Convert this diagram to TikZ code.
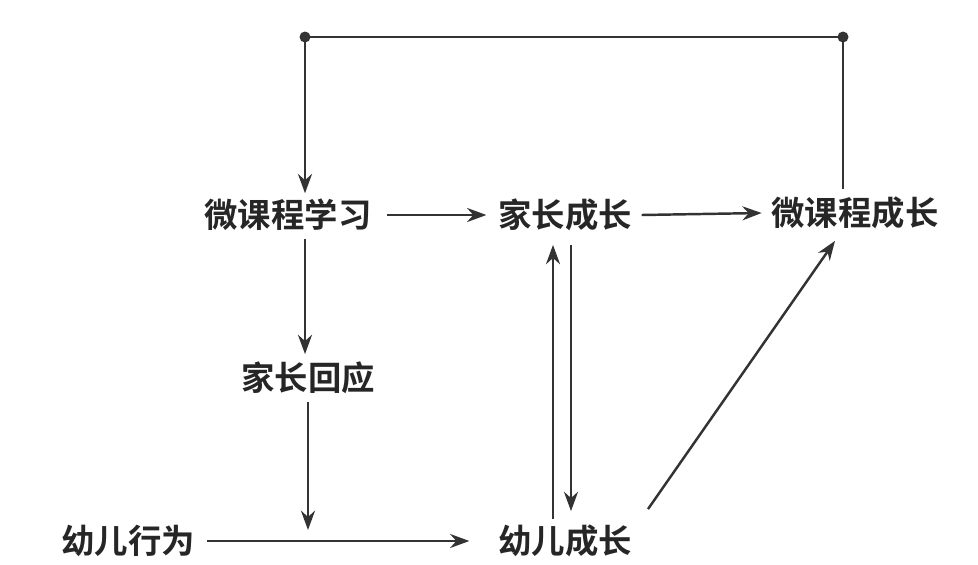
\documentclass[tikz,border=0pt]{standalone}
\usepackage{fontspec}
\newfontfamily\cjk{Noto Sans CJK SC}[BoldFont={Noto Sans CJK SC Bold}]
\usetikzlibrary{positioning,arrows.meta,calc}
\begin{document}
\begin{tikzpicture}[>=stealth,x=0.02cm,y=-0.02cm,
    lbl/.style={font=\cjk\bfseries\fontsize{19}{22}\selectfont,text=black!85,inner sep=2pt},
    arr/.style={->,line width=1.4pt,black!80,>={Stealth[length=11pt,width=8pt]}},
    ln/.style={line width=1.4pt,black!80}]
  \useasboundingbox (0,0) rectangle (978,565);
  % nodes
  \node[lbl] (wxx) at (288,215) {微课程学习};
  \node[lbl] (jzcz) at (565,215) {家长成长};
  \node[lbl] (wkcz) at (855,213) {微课程成长};
  \node[lbl] (jzhy) at (308,378) {家长回应};
  \node[lbl] (yexw) at (128,541) {幼儿行为};
  \node[lbl] (yecz) at (565,541) {幼儿成长};
  \coordinate (tl) at (305,37);
  \coordinate (tr) at (843,37);
  \coordinate (mid) at (308,530);
  % top loop
  \fill[black!80] (tl) circle (5.5) (tr) circle (5.5);
  \draw[ln] ($(wkcz.north -| tr)+(0,-4)$) -- (tr) -- (tl);
  \draw[arr] (tl) -- ($(tl |- wxx.north)+(0,-2)$);
  % arrows
  \draw[arr] ($(wxx.east)+(12,0)$) -- ($(jzcz.west)+(-8,0)$);
  \draw[arr] ($(jzcz.east)+(6,0)$) -- ($(wkcz.west)+(-6,0)$);
  \draw[arr] ($(wxx.south -| tl)+(0,4)$) -- ($(jzhy.north -| tl)+(0,-4)$);
  \draw[arr] ($(jzhy.south)+(0,4)$) -- (mid);
  \draw[arr] ($(yexw.east)+(8,0)$) -- ($(yecz.west)+(-25,0)$);
  \draw[arr] ($(yecz.north)+(-12,-2)$) -- ($(jzcz.south)+(-12,10)$);
  \draw[arr] ($(jzcz.south)+(6,10)$) -- ($(yecz.north)+(6,-10)$);
  \draw[arr] ($(yecz.north)+(83,-12)$) -- ($(wkcz.south)+(-20,8)$);
\end{tikzpicture}
\end{document}
